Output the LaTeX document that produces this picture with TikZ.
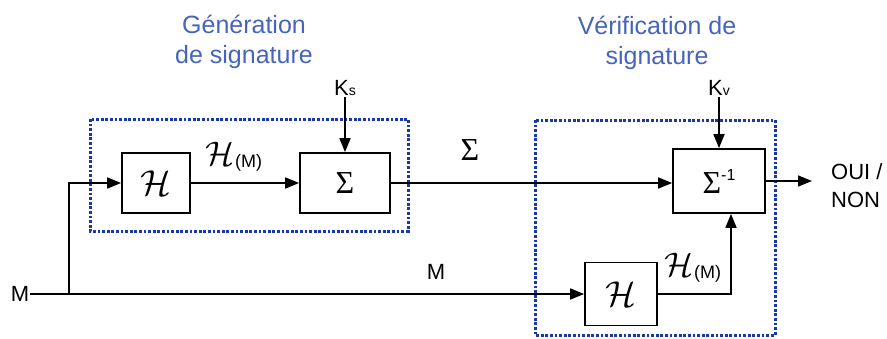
\documentclass[tikz,border=0pt]{standalone}
\usepackage{fontspec}
\usepackage{graphicx}
\setmainfont{Liberation Sans}
\newfontfamily\grk{Liberation Serif}
\usetikzlibrary{arrows.meta}
\definecolor{dblue}{RGB}{25,55,175}
\definecolor{tblue}{RGB}{70,100,190}
\newcommand{\calH}[1]{{\fontsize{10}{10}\selectfont\scalebox{#1}{$\mathcal{H}$}}}
\newcommand{\bigSig}{{\grk\fontsize{32}{32}\selectfont Σ}}
\begin{document}
\begin{tikzpicture}[x=1pt,y=-1pt,
  blk/.style={draw=black,line width=1.7pt,fill=white,inner sep=0pt},
  arr/.style={line width=1.7pt,-{Triangle[length=14pt,width=11pt]}},
  dbox/.style={draw=dblue,line width=3pt,dash pattern=on 2.8pt off 1.8pt},
  ttl/.style={text=tblue,align=center,font=\fontsize{25}{30}\selectfont},
  lbl/.style={font=\fontsize{22}{28}\selectfont,inner sep=1pt}]
\useasboundingbox (0,0) rectangle (887,338);
% dashed group boxes
\draw[dbox] (90,119) rectangle (408,231);
\draw[dbox] (535,120) rectangle (775,335);
% titles
\node[ttl] (t1) at (244,42) {Génération\\de signature};
\node[ttl] (t2) at (657,43) {Vérification de\\signature};
% blocks
\node[blk,minimum width=68pt,minimum height=60pt] (h1) at (156,183) {\calH{3.6}};
\node[blk,minimum width=90pt,minimum height=60pt] (s) at (345,183) {\bigSig};
\node[blk,minimum width=92pt,minimum height=64pt] (inv) at (719,181) {\bigSig\raisebox{13pt}{\fontsize{16}{16}\selectfont -1}};
\node[blk,minimum width=72pt,minimum height=63pt] (h2) at (621,294) {\calH{3.6}};
% labels
\node[lbl] (m) at (20,294) {M};
\node[lbl] (ks) at (345,88) {K\fontsize{14}{14}\selectfont s};
\node[lbl] (kv) at (719,88) {K\fontsize{14}{14}\selectfont v};
\node[lbl,align=left,anchor=west] (out) at (830,186) {OUI /\\NON};
\node[lbl] (hm1) at (234,157) {\calH{3.4}\raisebox{-2pt}{\fontsize{18}{18}\selectfont(M)}};
\node[lbl] (hm2) at (693,268) {\calH{3.4}\raisebox{-2pt}{\fontsize{18}{18}\selectfont(M)}};
\node[lbl] (sig) at (470,150) {\bigSig};
\node[lbl] (m2) at (436,272) {M};
\coordinate (br) at (69,294);
\coordinate (oe) at (812,181);
% connectors
\draw[arr] (m.east) -- (h2.west);
\draw[arr] (br) |- (h1.west);
\draw[arr] (h1.east) -- (s.west);
\draw[arr] (ks.south) -- (s.north);
\draw[arr] (s.east) -- (s.east -| inv.west);
\draw[arr] (kv.south) -- (inv.north);
\draw[arr] (h2.east) -| ([xshift=12pt]inv.south);
\draw[arr] (inv.east) -- (oe);
\end{tikzpicture}
\end{document}
